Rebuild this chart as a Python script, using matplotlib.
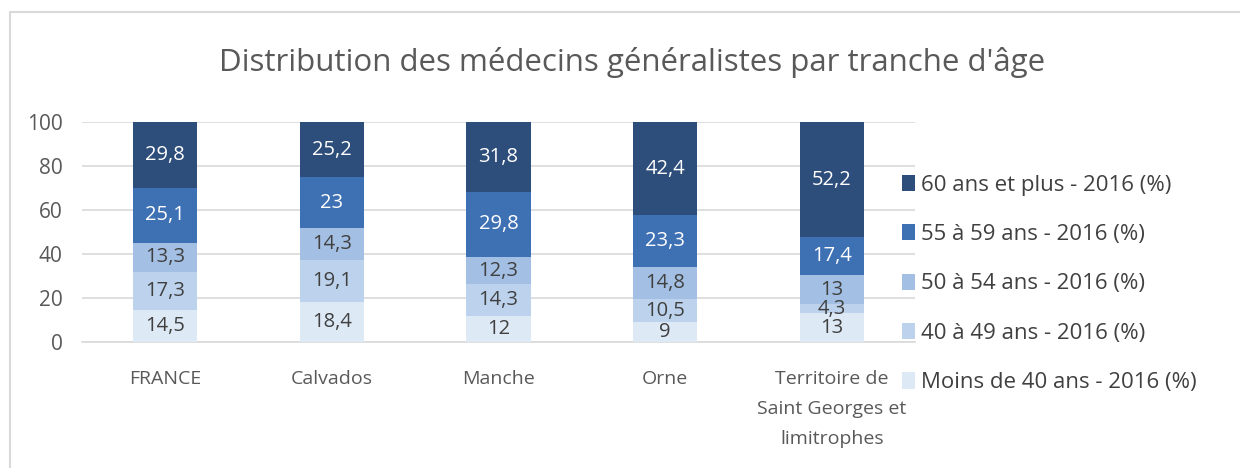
import matplotlib.pyplot as plt
import numpy as np

plt.rcParams['font.family'] = ['Open Sans', 'DejaVu Sans']

# Data
zones = ['FRANCE', 'Calvados', 'Manche', 'Orne', 'Territoire de\nSaint Georges et\nlimitrophes']
moins_40 = [14.5, 18.4, 12, 9, 13]
ans_40_49 = [17.3, 19.1, 14.3, 10.5, 4.3]
ans_50_54 = [13.3, 14.3, 12.3, 14.8, 13]
ans_55_59 = [25.1, 23, 29.8, 23.3, 17.4]
ans_60_plus = [29.8, 25.2, 31.8, 42.4, 52.2]

series = [
    ('Moins de 40 ans - 2016 (%)', moins_40, '#DEE9F6', '#404040'),
    ('40 à 49 ans - 2016 (%)', ans_40_49, '#BDD3ED', '#404040'),
    ('50 à 54 ans - 2016 (%)', ans_50_54, '#A3C0E4', '#404040'),
    ('55 à 59 ans - 2016 (%)', ans_55_59, '#3E70B4', 'white'),
    ('60 ans et plus - 2016 (%)', ans_60_plus, '#2D4D7B', 'white'),
]

W, H = 1240, 468
fig = plt.figure(figsize=(W / 100, H / 100), dpi=100)

# light frame around the chart
fig.patches.append(plt.Rectangle((10 / W, -0.1), 1.2, (H - 12) / H + 0.1,
                                 transform=fig.transFigure, fill=False,
                                 edgecolor='#D9D9D9', linewidth=1.5))

ax = fig.add_axes([82 / W, 1 - 342 / H, (915 - 82) / W, (342 - 122) / H])

x = np.arange(len(zones))
bottom = np.zeros(len(zones))
handles = []
for label, vals, color, txt in series:
    vals = np.array(vals, dtype=float)
    bars = ax.bar(x, vals, 0.385, bottom=bottom, color=color, label=label, zorder=3)
    handles.append(bars)
    for xi, b, v in zip(x, bottom, vals):
        ax.text(xi, b + v / 2, f'{v:g}'.replace('.', ','), ha='center', va='center',
                fontsize=14.5, color=txt, zorder=4)
    bottom += vals

ax.set_xlim(-0.5, len(zones) - 0.5)
ax.set_ylim(0, 100)
ax.set_yticks(range(0, 101, 20))
ax.yaxis.grid(True, color='#D9D9D9', linewidth=1.2, zorder=0)
for s in ax.spines.values():
    s.set_visible(False)
ax.spines['bottom'].set_visible(True)
ax.spines['bottom'].set_color('#D9D9D9')
ax.spines['bottom'].set_linewidth(1.2)
ax.tick_params(length=0, labelsize=14, labelcolor='#595959')
ax.tick_params(axis='y', pad=14, labelsize=15)
ax.tick_params(axis='x', pad=20)
ax.set_xticks(x)
ax.set_xticklabels(zones, linespacing=1.85, va='top')

fig.text(632 / W, 1 - 62 / H, "Distribution des médecins généralistes par tranche d'âge",
         ha='center', va='center', fontsize=22.5, color='#595959')

leg = fig.legend(handles[::-1], [s[0] for s in series][::-1],
                 loc='center left', bbox_to_anchor=(882 / W, 1 - 284 / H),
                 frameon=False, fontsize=16, labelspacing=1.28,
                 handlelength=0.6, handleheight=0.75, handletextpad=0.25)
for t in leg.get_texts():
    t.set_color('#404040')

fig.savefig('out.png', dpi=100)
